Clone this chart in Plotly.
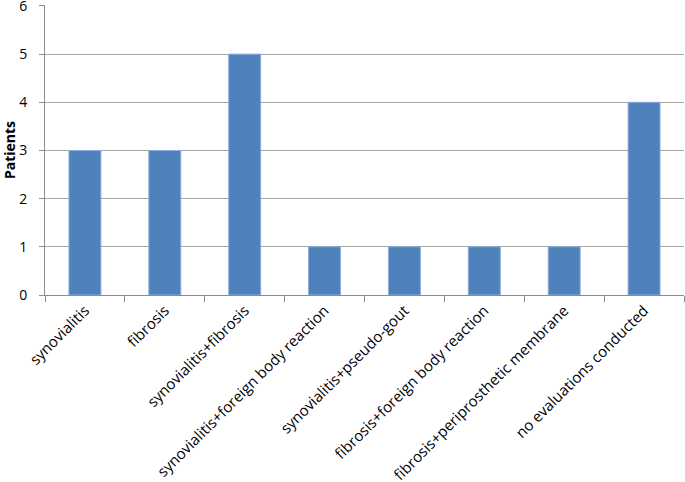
import plotly.graph_objects as go

categories = ["synovialitis", "fibrosis", "synovialitis+fibrosis",
              "synovialitis+foreign body reaction", "synovialitis+pseudo-gout",
              "fibrosis+foreign body reaction", "fibrosis+periprosthetic membrane",
              "no evaluations conducted"]
patients = [3, 3, 5, 1, 1, 1, 1, 4]
y_ticks = [0, 1, 2, 3, 4, 5, 6]

fig = go.Figure(go.Bar(
    x=categories, y=patients,
    marker=dict(color="#4F81BD", line=dict(color="#8EAEDB", width=1)),
    width=0.4,
))

axis_gray = "#8C8C8C"
fig.update_layout(
    width=685, height=482,
    margin=dict(l=45, r=1, t=5, b=187),
    paper_bgcolor="white", plot_bgcolor="white",
    showlegend=False,
    font=dict(family="Open Sans, Liberation Sans, sans-serif", size=15, color="black"),
)
fig.update_xaxes(
    tickangle=-45, showline=True, linecolor=axis_gray, linewidth=1,
    ticks="outside", ticklen=6, tickcolor=axis_gray,
    tickson="boundaries", showgrid=False, automargin=False,
    tickfont=dict(size=15),
)
fig.update_yaxes(
    range=[0, 6.02], tickvals=y_ticks, showline=True, linecolor=axis_gray, linewidth=1,
    ticks="outside", ticklen=5, tickcolor=axis_gray,
    showgrid=True, gridcolor="#A6A6A6", gridwidth=1, automargin=False,
    zeroline=False, tickfont=dict(size=14), ticklabelstandoff=9,
    ticklabeloverflow="allow",
    title=dict(text="<b>Patients</b>", font=dict(size=14), standoff=11),
)

fig.write_html("out.html", config={"displayModeBar": False},
               post_script="document.body.style.margin='0';")
